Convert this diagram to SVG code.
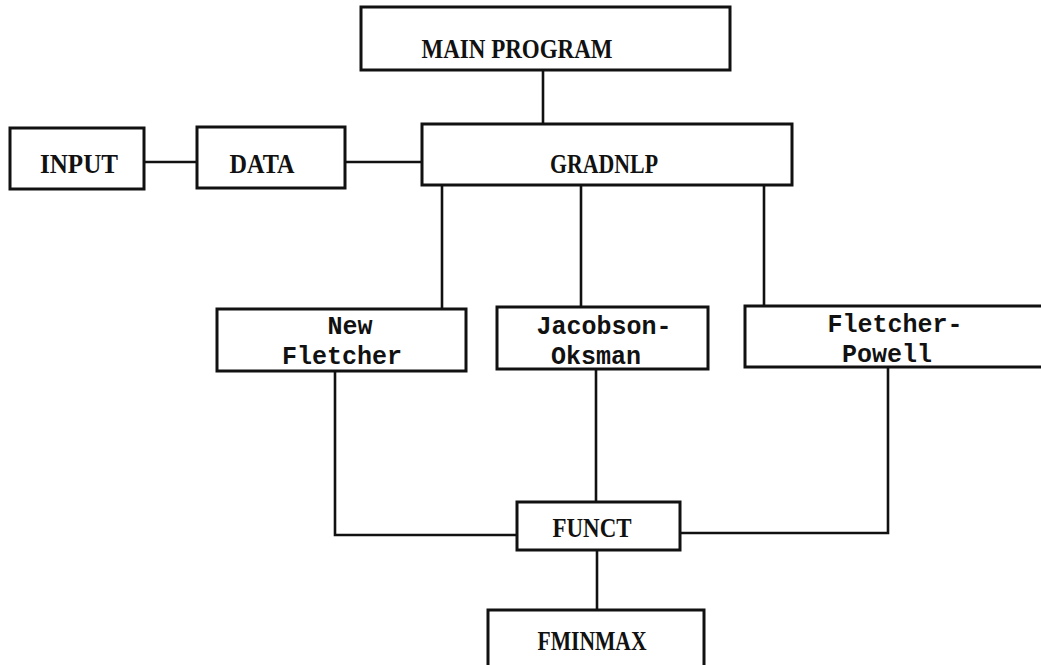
<svg xmlns="http://www.w3.org/2000/svg" width="1041" height="665" viewBox="0 0 1041 665">
<style>
.box{fill:#fff;stroke:#111;stroke-width:3}
.con{fill:none;stroke:#111;stroke-width:2.6}
.cap{font-family:"Liberation Serif",serif;font-weight:bold;font-size:28px;fill:#111;text-anchor:middle}
.mono{font-family:"Liberation Mono",monospace;font-weight:bold;font-size:25px;fill:#111;text-anchor:middle}
</style>
<rect width="1041" height="665" fill="#fff"/>
<g id="connectors">
<line class="con" x1="543" y1="70" x2="543" y2="124"/>
<line class="con" x1="144" y1="162" x2="197" y2="162"/>
<line class="con" x1="345" y1="162" x2="422" y2="162"/>
<line class="con" x1="442" y1="185" x2="442" y2="309"/>
<line class="con" x1="581" y1="185" x2="581" y2="307"/>
<line class="con" x1="764" y1="185" x2="764" y2="306"/>
<polyline class="con" points="335,371 335,535 517,535"/>
<line class="con" x1="596" y1="369" x2="596" y2="502"/>
<polyline class="con" points="888,367 888,533 680,533"/>
<line class="con" x1="597" y1="550" x2="597" y2="610"/>
</g>
<g id="main">
<rect class="box" x="361" y="7" width="369" height="63"/>
<text class="cap" x="517" y="58" textLength="191" lengthAdjust="spacingAndGlyphs">MAIN PROGRAM</text>
</g>
<g id="input">
<rect class="box" x="10" y="128" width="134" height="61"/>
<text class="cap" x="79" y="173" textLength="78" lengthAdjust="spacingAndGlyphs">INPUT</text>
</g>
<g id="data">
<rect class="box" x="197" y="127" width="148" height="61"/>
<text class="cap" x="262" y="173" textLength="65" lengthAdjust="spacingAndGlyphs">DATA</text>
</g>
<g id="gradnlp">
<rect class="box" x="422" y="124" width="370" height="61"/>
<text class="cap" x="604" y="173" textLength="108" lengthAdjust="spacingAndGlyphs">GRADNLP</text>
</g>
<g id="newfletcher">
<rect class="box" x="217" y="309" width="249" height="62"/>
<text class="mono" x="350" y="334">New</text>
<text class="mono" x="342" y="364">Fletcher</text>
</g>
<g id="jacobson">
<rect class="box" x="497" y="307" width="211" height="62"/>
<text class="mono" x="604" y="334">Jacobson-</text>
<text class="mono" x="596" y="364">Oksman</text>
</g>
<g id="fletcherpowell">
<rect class="box" x="745" y="306" width="300" height="61"/>
<text class="mono" x="895" y="332">Fletcher-</text>
<text class="mono" x="887" y="362">Powell</text>
</g>
<g id="funct">
<rect class="box" x="517" y="502" width="163" height="48"/>
<text class="cap" x="592" y="537" textLength="79" lengthAdjust="spacingAndGlyphs">FUNCT</text>
</g>
<g id="fminmax">
<rect class="box" x="488" y="610" width="216" height="62"/>
<text class="cap" x="592" y="650" textLength="109" lengthAdjust="spacingAndGlyphs">FMINMAX</text>
</g>
</svg>
